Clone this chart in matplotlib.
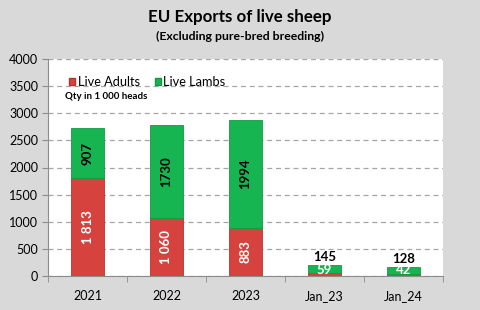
import matplotlib
matplotlib.use("Agg")
import matplotlib.pyplot as plt
from matplotlib.patches import Patch

categories = ["2021", "2022", "2023", "Jan_23", "Jan_24"]
live_adults = [1813, 1060, 883, 59, 42]
live_lambs = [907, 1730, 1994, 145, 128]

RED = "#d6423d"
GREEN = "#17b551"
BG = "#d9d9d9"

plt.rcParams["font.family"] = ["Lato", "DejaVu Sans"]


def fmt(v):
    return f"{v:,}".replace(",", " ")


fig = plt.figure(figsize=(4.8, 3.1), dpi=100, facecolor=BG)
ax = fig.add_axes([48 / 480, 34 / 310, 395 / 480, 217 / 310])
ax.set_facecolor("white")

x = list(range(len(categories)))
width = 0.42
ax.bar(x, live_adults, width, color=RED, edgecolor="#b8332f", linewidth=0.6, zorder=3)
ax.bar(x, live_lambs, width, bottom=live_adults, color=GREEN,
       edgecolor="#129a43", linewidth=0.6, zorder=3)

for i, (a, l) in enumerate(zip(live_adults, live_lambs)):
    if a + l > 1000:
        ax.text(i, a / 2, fmt(a), rotation=90, ha="center", va="center",
                color="white", fontsize=9.5, fontweight="bold", zorder=4)
        ax.text(i, a + l / 2, str(l), rotation=90, ha="center", va="center",
                color="black", fontsize=9.5, fontweight="bold", zorder=4)
    else:
        ax.text(i, a + l + 30, str(l), ha="center", va="bottom",
                color="black", fontsize=9.5, fontweight="bold", zorder=4)
        ax.text(i, 0, str(a), ha="center", va="bottom",
                color="white", fontsize=9.5, fontweight="bold", zorder=4)

ax.set_ylim(0, 4000)
ax.set_xlim(-0.5, len(categories) - 0.5)
ax.set_yticks(range(0, 4001, 500))
ax.set_xticks(x)
ax.set_xticklabels(categories)
ax.set_xticks([i + 0.5 for i in range(-1, len(categories))], minor=True)
ax.tick_params(axis="x", which="major", length=0, pad=10, labelsize=9)
ax.tick_params(axis="x", which="minor", length=4, color="#8c8c8c", direction="out")
ax.tick_params(axis="y", length=4, color="#8c8c8c", labelsize=9, pad=3)
ax.grid(axis="y", linestyle=(0, (4, 3)), color="#a6a6a6", linewidth=0.9, zorder=0)
for side in ("top", "right"):
    ax.spines[side].set_visible(False)
for side in ("left", "bottom"):
    ax.spines[side].set_color("#8c8c8c")

handles = [Patch(facecolor=RED, edgecolor="#b8332f", label="Live Adults"),
           Patch(facecolor=GREEN, edgecolor="#129a43", label="Live Lambs")]
ax.legend(handles=handles, loc="upper left", bbox_to_anchor=(0.025, 0.975), ncol=2,
          frameon=False, fontsize=9.2, handlelength=0.45, handleheight=0.45,
          handletextpad=0.2, columnspacing=1.2, borderaxespad=0.5)
ax.text(0.043, 0.825, "Qty in 1 000 heads", transform=ax.transAxes,
        fontsize=7, fontweight="bold", va="center")

fig.text(0.5, 1 - 17 / 310, "EU Exports of live sheep", ha="center", va="center",
         fontsize=12.2, fontweight="bold")
fig.text(0.5, 1 - 36 / 310, "(Excluding pure-bred breeding)", ha="center", va="center",
         fontsize=8.8, fontweight="bold")

fig.savefig("out.png", dpi=100, facecolor=BG)
